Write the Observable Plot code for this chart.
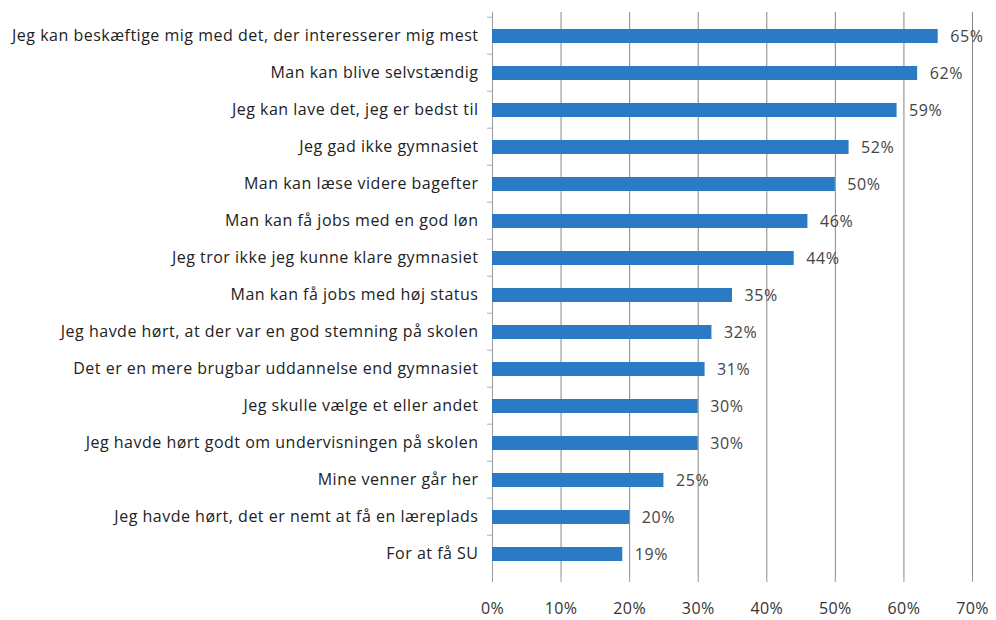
<!DOCTYPE html>
<html>
<head>
<meta charset="utf-8">
<script src="https://cdn.jsdelivr.net/npm/d3@7"></script>
<script src="https://cdn.jsdelivr.net/npm/@observablehq/plot@0.6"></script>
<style>
  html, body { margin: 0; padding: 0; background: #fff; }
  #chart svg { display: block; }
  .ylab text { letter-spacing: 0.5px; }
  .vlab text { letter-spacing: 0.6px; }
  .xlab text { letter-spacing: 0.4px; }
</style>
</head>
<body>
<div id="chart"></div>
<script>
const categories = [
  "Jeg kan beskæftige mig med det, der interesserer mig mest",
  "Man kan blive selvstændig",
  "Jeg kan lave det, jeg er bedst til",
  "Jeg gad ikke gymnasiet",
  "Man kan læse videre bagefter",
  "Man kan få jobs med en god løn",
  "Jeg tror ikke jeg kunne klare gymnasiet",
  "Man kan få jobs med høj status",
  "Jeg havde hørt, at der var en god stemning på skolen",
  "Det er en mere brugbar uddannelse end gymnasiet",
  "Jeg skulle vælge et eller andet",
  "Jeg havde hørt godt om undervisningen på skolen",
  "Mine venner går her",
  "Jeg havde hørt, det er nemt at få en læreplads",
  "For at få SU"
];
const values = [0.65, 0.62, 0.59, 0.52, 0.50, 0.46, 0.44, 0.35, 0.32, 0.31, 0.30, 0.30, 0.25, 0.20, 0.19];
const xTicks = [0, 0.1, 0.2, 0.3, 0.4, 0.5, 0.6, 0.7];

const data = categories.map((c, i) => ({category: c, value: values[i]}));
const pct = d3.format(".0%");

const H = 620, MT = 12, MB = 43;
const step = (H - MT - MB) / categories.length;

const chart = Plot.plot({
  width: 996,
  height: H,
  marginLeft: 492,
  marginRight: 24,
  marginTop: MT,
  marginBottom: MB,
  style: {fontFamily: "'Open Sans', sans-serif", fontSize: "16px", color: "#333", background: "#fff"},
  x: {domain: [0, 0.7], ticks: xTicks, tickFormat: pct, label: null},
  y: {domain: categories, padding: 0, label: null},
  marks: [
    Plot.gridX(xTicks, {stroke: "#858585", strokeOpacity: 1, strokeWidth: 1}),
    Plot.ruleY([0], {x1: 0, x2: 0.7, frameAnchor: "bottom", stroke: "#9a9a9a"}),
    Plot.ruleX([0], {stroke: "#9a9a9a"}),
    Plot.ruleY(categories, {y: d => d, x1: 0, x2: 0, insetLeft: -5, dy: -step / 2, stroke: "#b0b0b0"}),
    Plot.barX(data, {x: "value", y: "category", fill: "#2a7bc3", insetTop: 12, insetBottom: 11}),
    Plot.text(data, {x: "value", y: "category", text: d => pct(d.value), textAnchor: "start", dx: 12, dy: 1, fill: "#444", fontSize: 16, className: "vlab"}),
    Plot.axisY({tickSize: 0, tickPadding: 14, fill: "#222", fontSize: 16, className: "ylab"}),
    Plot.axisX(xTicks, {tickSize: 5, tickPadding: 20, stroke: "#9a9a9a", fill: "#333", fontSize: 16, tickFormat: pct, className: "xlab"})
  ]
});
document.getElementById("chart").appendChild(chart);
</script>
</body>
</html>
